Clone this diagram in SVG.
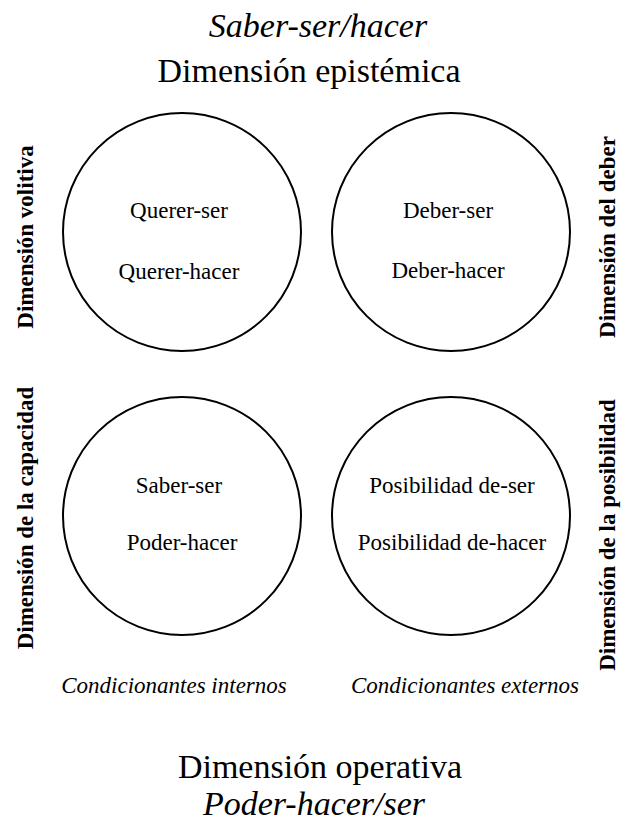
<svg xmlns="http://www.w3.org/2000/svg" width="622" height="827" viewBox="0 0 622 827">
<style>
text{font-family:"Liberation Serif","Times New Roman",serif;fill:#000}
.t{font-size:34px;text-anchor:middle}
.i{font-style:italic}
.c{font-size:23px;text-anchor:middle}
.v{font-size:23px;font-weight:bold;text-anchor:middle}
.n{fill:#fff;stroke:#000;stroke-width:2}
</style>
<rect width="622" height="827" fill="#fff"/>
<g id="title-top">
<text class="t i" x="318" y="37">Saber-ser/hacer</text>
<text class="t" x="309" y="82">Dimensión epistémica</text>
</g>
<g id="node-querer">
<circle class="n" cx="182" cy="232" r="119"/>
<text class="c" x="179" y="218">Querer-ser</text>
<text class="c" x="179" y="279">Querer-hacer</text>
</g>
<g id="node-deber">
<circle class="n" cx="451" cy="232" r="119"/>
<text class="c" x="448" y="218">Deber-ser</text>
<text class="c" x="448" y="278">Deber-hacer</text>
</g>
<g id="node-capacidad">
<circle class="n" cx="182" cy="516" r="119"/>
<text class="c" x="179" y="493">Saber-ser</text>
<text class="c" x="182" y="550">Poder-hacer</text>
</g>
<g id="node-posibilidad">
<circle class="n" cx="451" cy="516" r="119"/>
<text class="c" x="452" y="493">Posibilidad de-ser</text>
<text class="c" x="452" y="550">Posibilidad de-hacer</text>
</g>
<g id="labels-side">
<text class="v" transform="translate(33,237) rotate(-90)">Dimensión volitiva</text>
<text class="v" transform="translate(33,518) rotate(-90)">Dimensión de la capacidad</text>
<text class="v" transform="translate(615,237) rotate(-90)">Dimensión del deber</text>
<text class="v" transform="translate(615,535) rotate(-90)">Dimensión de la posibilidad</text>
</g>
<g id="labels-bottom">
<text class="c i" x="174" y="693">Condicionantes internos</text>
<text class="c i" x="465" y="693">Condicionantes externos</text>
</g>
<g id="title-bottom">
<text class="t" x="320" y="778">Dimensión operativa</text>
<text class="t i" x="314" y="815">Poder-hacer/ser</text>
</g>
<g id="connectors"></g>
</svg>
